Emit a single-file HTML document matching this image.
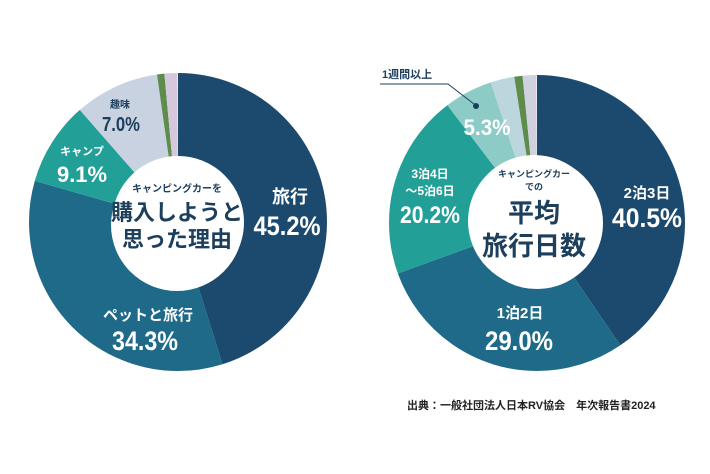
<!DOCTYPE html>
<html><head><meta charset="utf-8"><style>
html,body{margin:0;padding:0;background:#fff}
body{width:710px;height:474px;overflow:hidden;position:relative}
svg{position:absolute;left:0;top:0}
text{font-family:"Liberation Sans","Noto Sans CJK JP",sans-serif;font-weight:bold}
</style></head><body>
<svg width="710" height="474" viewBox="0 0 710 474">
<g transform="rotate(-90 178 222)" fill="none" stroke-width="83">
 <circle cx="178" cy="222" r="107.5" pathLength="100" stroke="#1c4a6f" stroke-dasharray="45.2 100" stroke-dashoffset="0"/>
 <circle cx="178" cy="222" r="107.5" pathLength="100" stroke="#1e6a88" stroke-dasharray="34.3 100" stroke-dashoffset="-45.2"/>
 <circle cx="178" cy="222" r="107.5" pathLength="100" stroke="#22a097" stroke-dasharray="9.1 100" stroke-dashoffset="-79.5"/>
 <circle cx="178" cy="222" r="107.5" pathLength="100" stroke="#c9d2e0" stroke-dasharray="9.2 100" stroke-dashoffset="-88.6"/>
 <circle cx="178" cy="222" r="107.5" pathLength="100" stroke="#5e8c4a" stroke-dasharray="0.8 100" stroke-dashoffset="-97.8"/>
 <circle cx="178" cy="222" r="107.5" pathLength="100" stroke="#d6c8dc" stroke-dasharray="1.4 100" stroke-dashoffset="-98.6"/>
</g>
<circle cx="177" cy="225" r="66" fill="#fff"/>
<g transform="rotate(-90 537 223)" fill="none" stroke-width="82">
 <circle cx="537" cy="223" r="107" pathLength="100" stroke="#1c4a6f" stroke-dasharray="40.5 100" stroke-dashoffset="0"/>
 <circle cx="537" cy="223" r="107" pathLength="100" stroke="#1e6a88" stroke-dasharray="29 100" stroke-dashoffset="-40.5"/>
 <circle cx="537" cy="223" r="107" pathLength="100" stroke="#22a097" stroke-dasharray="20.2 100" stroke-dashoffset="-69.5"/>
 <circle cx="537" cy="223" r="107" pathLength="100" stroke="#8ccbc6" stroke-dasharray="5.3 100" stroke-dashoffset="-89.7"/>
 <circle cx="537" cy="223" r="107" pathLength="100" stroke="#bcd6de" stroke-dasharray="2.6 100" stroke-dashoffset="-95"/>
 <circle cx="537" cy="223" r="107" pathLength="100" stroke="#5e8c4a" stroke-dasharray="0.9 100" stroke-dashoffset="-97.6"/>
 <circle cx="537" cy="223" r="107" pathLength="100" stroke="#d0d0de" stroke-dasharray="1.5 100" stroke-dashoffset="-98.5"/>
</g>
<circle cx="534" cy="221" r="66" fill="#fff"/>

<g fill="#fff" text-anchor="middle">
 <text x="290" y="203" font-size="18">旅行</text>
 <text x="287" y="235" font-size="27" textLength="67" lengthAdjust="spacingAndGlyphs">45.2%</text>
 <text x="148" y="320" font-size="15">ペットと旅行</text>
 <text x="145" y="350" font-size="27" textLength="66" lengthAdjust="spacingAndGlyphs">34.3%</text>
 <text x="82" y="155" font-size="11">キャンプ</text>
 <text x="82" y="182" font-size="22" textLength="50" lengthAdjust="spacingAndGlyphs">9.1%</text>
 <text x="647" y="198" font-size="15">2泊3日</text>
 <text x="647" y="227" font-size="27" textLength="70" lengthAdjust="spacingAndGlyphs">40.5%</text>
 <text x="520" y="318" font-size="15">1泊2日</text>
 <text x="519" y="350" font-size="27" textLength="68" lengthAdjust="spacingAndGlyphs">29.0%</text>
 <text x="430" y="178" font-size="12">3泊4日</text>
 <text x="430" y="195" font-size="12">～5泊6日</text>
 <text x="430" y="223" font-size="24" textLength="60" lengthAdjust="spacingAndGlyphs">20.2%</text>
 <text x="487" y="135" font-size="22" textLength="47" lengthAdjust="spacingAndGlyphs">5.3%</text>
</g>
<g fill="#1d3f5c" text-anchor="middle">
 <text x="120" y="108" font-size="10">趣味</text>
 <text x="121" y="131" font-size="20" textLength="38" lengthAdjust="spacingAndGlyphs">7.0%</text>
 <text x="177" y="192" font-size="10">キャンピングカーを</text>
 <text x="177" y="220" font-size="22">購入しようと</text>
 <text x="177" y="247" font-size="22">思った理由</text>
 <text x="534" y="177" font-size="9">キャンピングカー</text>
 <text x="534" y="190" font-size="9">での</text>
 <text x="534" y="222" font-size="26">平均</text>
 <text x="534" y="255" font-size="26">旅行日数</text>
</g>
<text x="382" y="78" font-size="11" fill="#1d3f5c">1週間以上</text>
<polyline points="380,84 448,84 474,104" fill="none" stroke="#1d3f5c" stroke-width="1"/>
<circle cx="476" cy="106" r="3" fill="#1d3f5c"/>
<text x="407" y="409" font-size="11" fill="#222">出典：一般社団法人日本RV協会　年次報告書2024</text>
</svg>
</body></html>
